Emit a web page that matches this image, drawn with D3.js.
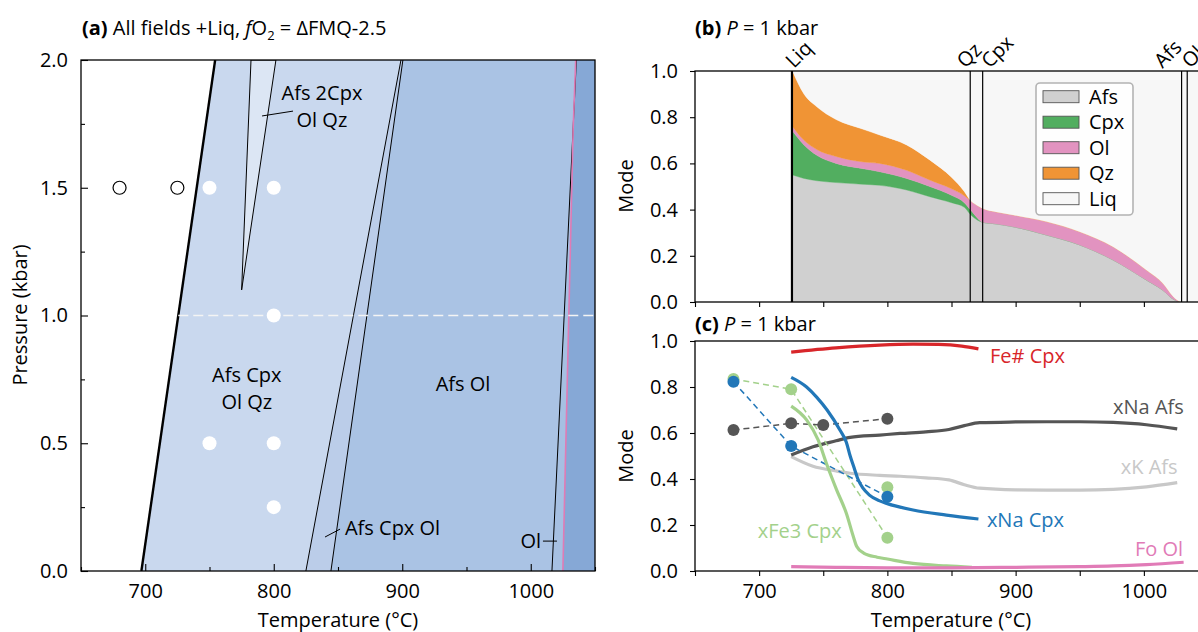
<!DOCTYPE html>
<html><head><meta charset="utf-8">
<script src="https://cdn.jsdelivr.net/npm/d3@7"></script>
<style>body{margin:0;background:#fff;overflow:hidden} svg{display:block}</style>
</head><body>
<svg id="c" width="1198" height="632"></svg>
<script>
// ---------------- DATA ----------------
// Panel (a): phase boundaries, temperature (°C) at pressure nodes (kbar)
const boundaryP = [0, 2];
const solidusT = [697, 754.4];
const qzOutT = [825, 899];
const cpxOutT = [844.5, 900.5];
const afsOutT = [1016.5, 1035.5];
const olOutP = [0, 1.73, 2];
const olOutT = [1025, 1033, 1035];
const twoCpxP = [1.1, 2.0, 2.0];
const twoCpxT = [775, 782.3, 801.7];
const expOpenT = [680, 725];
const expOpenP = [1.5, 1.5];
const expFilledT = [750, 800, 800, 750, 800, 800];
const expFilledP = [1.5, 1.5, 1.0, 0.5, 0.5, 0.25];
const sectionP = 1.0;
const pTicks = [0, 0.5, 1.0, 1.5, 2.0];
const pMinorTicks = [0.25, 0.75, 1.25, 1.75];
const tTicks = [700, 800, 900, 1000];
const tMinorTicks = [650, 750, 850, 950, 1050];

// Panel (b): phase modes at 1 kbar
const bTemp = [726, 735, 745, 760, 780, 794, 815, 833, 850, 860, 864.6, 870, 874.3, 885, 898, 924, 950, 976, 1002, 1015, 1023, 1029.4, 1050];
const bAfs = [0.55, 0.535, 0.525, 0.517, 0.51, 0.505, 0.485, 0.456, 0.43, 0.41, 0.38, 0.355, 0.345, 0.338, 0.326, 0.29, 0.247, 0.182, 0.095, 0.05, 0.012, 0, 0];
const bCpx = [0.19, 0.145, 0.11, 0.083, 0.068, 0.059, 0.05, 0.044, 0.032, 0.02, 0.02, 0.01, 0, 0, 0, 0, 0, 0, 0, 0, 0, 0, 0];
const bOl  = [0.02, 0.02, 0.025, 0.03, 0.029, 0.036, 0.035, 0.028, 0.028, 0.03, 0.04, 0.053, 0.06, 0.052, 0.051, 0.058, 0.057, 0.057, 0.043, 0.03, 0.011, 0, 0];
const bQz  = [0.24, 0.20, 0.185, 0.16, 0.143, 0.123, 0.11, 0.087, 0.05, 0.018, 0, 0, 0, 0, 0, 0, 0, 0, 0, 0, 0, 0, 0];
const bLiq = [0, 0.10, 0.155, 0.21, 0.25, 0.277, 0.32, 0.385, 0.46, 0.522, 0.56, 0.582, 0.595, 0.61, 0.623, 0.652, 0.696, 0.761, 0.862, 0.92, 0.977, 1, 1];
const phaseNames = ['Afs', 'Cpx', 'Ol', 'Qz', 'Liq'];
const phaseColors = ['#d0d0d0', '#52ae60', '#e293c0', '#f09435', '#f7f7f7'];
const phaseLineNames = ['Liq', 'Qz', 'Cpx', 'Afs', 'Ol'];
const phaseLineT = [725.6, 864.6, 874.3, 1029.4, 1033.8];
const modeTicks = [0, 0.2, 0.4, 0.6, 0.8, 1.0];

// Panel (c): compositions at 1 kbar
const feCpxT = [725, 760, 794, 820, 840, 858, 871];
const feCpxV = [0.952, 0.970, 0.982, 0.986, 0.985, 0.978, 0.966];
const afsT = [725, 742, 760, 771, 794, 810, 830, 848, 860, 872, 900, 924, 950, 976, 1002, 1026];
const xNaAfsV = [0.504, 0.54, 0.566, 0.581, 0.591, 0.598, 0.605, 0.615, 0.632, 0.645, 0.648, 0.649, 0.649, 0.646, 0.636, 0.618];
const xKAfsV = [0.497, 0.455, 0.435, 0.425, 0.416, 0.412, 0.405, 0.396, 0.375, 0.36, 0.353, 0.352, 0.352, 0.355, 0.366, 0.384];
const xNaCpxT = [725, 737, 745, 753, 763, 768, 771, 774, 777, 781, 786, 794, 800, 820, 846, 871];
const xNaCpxV = [0.842, 0.80, 0.755, 0.70, 0.613, 0.56, 0.50, 0.45, 0.40, 0.36, 0.33, 0.305, 0.293, 0.265, 0.243, 0.226];
const xFe3CpxT = [725, 737, 746, 753, 760.5, 768, 773.5, 776, 781.5, 792, 800, 820, 846, 866];
const xFe3CpxV = [0.717, 0.657, 0.57, 0.46, 0.352, 0.251, 0.149, 0.108, 0.078, 0.06, 0.052, 0.033, 0.022, 0.016];
const foOlT = [725, 760, 800, 850, 900, 950, 976, 1002, 1031];
const foOlV = [0.019, 0.016, 0.014, 0.014, 0.016, 0.019, 0.022, 0.028, 0.038];
const expNaAfsT = [680, 725, 750, 800];
const expNaAfsV = [0.613, 0.642, 0.635, 0.662];
const expNaCpxT = [680, 725, 800];
const expNaCpxV = [0.823, 0.543, 0.323];
const expFe3CpxT = [680, 725, 800];
const expFe3CpxV = [0.835, 0.79, 0.145];
const expFe3CpxExtraT = [800];
const expFe3CpxExtraV = [0.364];

// ---------------- DRAW ----------------
const FS = 20;
const svg = d3.select('#c').attr('font-family', "'Open Sans', sans-serif").attr('font-size', FS);
const defs = svg.append('defs');

function styleAxis(g) {
  g.select('.domain').remove();
  g.attr('font-size', FS).attr('font-family', null);
  g.selectAll('text').attr('fill', '#000');
  g.selectAll('line').attr('stroke', '#000').attr('stroke-width', 1.1);
}

// ======== Panel (a) ========
const xA = d3.scaleLinear([650, 1050], [81, 595]);
const yA = d3.scaleLinear([0, 2], [571, 60]);
defs.append('clipPath').attr('id', 'clipA').append('rect')
  .attr('x', 81).attr('y', 60).attr('width', 514).attr('height', 511);
const gA = svg.append('g');
const fA = gA.append('g').attr('clip-path', 'url(#clipA)');

function rightOf(Ps, Ts) {
  const pts = Ps.map((p, i) => [xA(Ts[i]), yA(p)]);
  pts.push([xA(1070), yA(Ps[Ps.length - 1])]);
  pts.push([xA(1070), yA(Ps[0])]);
  return pts;
}
const fieldLayers = [
  [boundaryP, solidusT, '#c9d8ee'],
  [boundaryP, qzOutT, '#bbcde9'],
  [boundaryP, cpxOutT, '#aac3e4'],
  [boundaryP, afsOutT, '#a6c0e2'],
  [olOutP, olOutT, '#86a8d6']
];
fieldLayers.forEach(([Ps, Ts, col]) => {
  fA.append('polygon').attr('points', rightOf(Ps, Ts).map(p => p.join(',')).join(' ')).attr('fill', col);
});
// two-Cpx lens
fA.append('polygon').attr('points', twoCpxP.map((p, i) => [xA(twoCpxT[i]), yA(p)].join(',')).join(' '))
  .attr('fill', '#dce6f4').attr('stroke', '#000').attr('stroke-width', 1);

const lineA = d3.line().x(d => xA(d[0])).y(d => yA(d[1]));
function bLine(Ps, Ts) { return Ts.map((t, i) => [t, Ps[i]]); }
fA.append('path').attr('d', lineA(bLine(boundaryP, qzOutT))).attr('stroke', '#000').attr('stroke-width', 1).attr('fill', 'none');
fA.append('path').attr('d', lineA(bLine(boundaryP, cpxOutT))).attr('stroke', '#000').attr('stroke-width', 1).attr('fill', 'none');
fA.append('path').attr('d', lineA(bLine(boundaryP, afsOutT))).attr('stroke', '#000').attr('stroke-width', 1).attr('fill', 'none');
fA.append('path').attr('d', lineA(bLine(olOutP, olOutT))).attr('stroke', '#e07bb5').attr('stroke-width', 1.6).attr('fill', 'none');
fA.append('path').attr('d', lineA(bLine(boundaryP, solidusT))).attr('stroke', '#000').attr('stroke-width', 2.4).attr('fill', 'none');

// section line at 1 kbar
const solidusAtSection = d3.scaleLinear(boundaryP, solidusT)(sectionP);
fA.append('line').attr('x1', xA(solidusAtSection)).attr('x2', xA(1050))
  .attr('y1', yA(sectionP)).attr('y2', yA(sectionP))
  .attr('stroke', '#f4f4f4').attr('stroke-width', 1.6).attr('stroke-dasharray', '10,5');

// experiments
gA.selectAll('.openc').data(expOpenT).join('circle')
  .attr('cx', (d) => xA(d)).attr('cy', (d, i) => yA(expOpenP[i])).attr('r', 6.5)
  .attr('fill', '#fff').attr('stroke', '#000').attr('stroke-width', 1.2);
gA.selectAll('.fillc').data(expFilledT).join('circle')
  .attr('cx', (d) => xA(d)).attr('cy', (d, i) => yA(expFilledP[i])).attr('r', 7)
  .attr('fill', '#fff');

// labels (positions in data coords)
function labelA(lines, T, P, anchor) {
  const t = gA.append('text').attr('x', xA(T)).attr('y', yA(P)).attr('text-anchor', anchor || 'middle');
  lines.forEach((s, i) => t.append('tspan').attr('x', xA(T)).attr('dy', i === 0 ? '0.35em' : '1.33em').text(s));
}
labelA(['Afs 2Cpx', 'Ol Qz'], 837.5, 1.871);
labelA(['Afs Cpx', 'Ol Qz'], 779, 0.767);
labelA(['Afs Ol'], 947.3, 0.732);
labelA(['Afs Cpx Ol'], 855.4, 0.168, 'start');
labelA(['Ol'], 1008, 0.117, 'end');
const leaders = [[790.9, 1.781, 815, 1.80], [839.9, 0.133, 851.6, 0.164], [1009.5, 0.117, 1020.4, 0.117]];
leaders.forEach(l => gA.append('line').attr('x1', xA(l[0])).attr('y1', yA(l[1])).attr('x2', xA(l[2])).attr('y2', yA(l[3]))
  .attr('stroke', '#000').attr('stroke-width', 1));

// frame & axes
gA.append('rect').attr('x', 81).attr('y', 60).attr('width', 514).attr('height', 511)
  .attr('fill', 'none').attr('stroke', '#000').attr('stroke-width', 1.3);
gA.append('g').attr('transform', 'translate(0,571)')
  .call(d3.axisBottom(xA).tickValues(tTicks).tickSizeInner(-7).tickSizeOuter(0).tickPadding(13).tickFormat(d3.format('d'))).call(styleAxis);
gA.append('g').attr('transform', 'translate(0,571)')
  .call(d3.axisBottom(xA).tickValues(tMinorTicks).tickSizeInner(-4).tickSizeOuter(0).tickFormat('')).call(styleAxis);
gA.append('g').attr('transform', 'translate(81,0)')
  .call(d3.axisLeft(yA).tickValues(pTicks).tickSizeInner(-7).tickSizeOuter(0).tickPadding(13).tickFormat(d3.format('.1f'))).call(styleAxis);
gA.append('g').attr('transform', 'translate(81,0)')
  .call(d3.axisLeft(yA).tickValues(pMinorTicks).tickSizeInner(-4).tickSizeOuter(0).tickFormat('')).call(styleAxis);

gA.append('text').attr('transform', 'translate(20,315) rotate(-90)').attr('text-anchor', 'middle').attr('dy', '0.35em').text('Pressure (kbar)');
gA.append('text').attr('x', 338).attr('y', 627).attr('text-anchor', 'middle').text('Temperature (°C)');
const tA = gA.append('text').attr('x', 82).attr('y', 35);
tA.append('tspan').attr('font-weight', 'bold').text('(a)');
tA.append('tspan').text(' All fields +Liq, ');
tA.append('tspan').attr('font-style', 'italic').text('f');
tA.append('tspan').text('O');
tA.append('tspan').attr('font-size', 13).attr('dy', 5).text('2');
tA.append('tspan').attr('dy', -5).text(' = ΔFMQ-2.5');

// ======== Panel (b) ========
const xB = d3.scaleLinear([650, 1050], [695, 1208]);
const yB = d3.scaleLinear([0, 1], [302, 71]);
defs.append('clipPath').attr('id', 'clipB').append('rect')
  .attr('x', 695).attr('y', 71).attr('width', 513).attr('height', 231);
const gB = svg.append('g');
const fB = gB.append('g').attr('clip-path', 'url(#clipB)');
const rows = bTemp.map((t, i) => ({ t, Afs: bAfs[i], Cpx: bCpx[i], Ol: bOl[i], Qz: bQz[i], Liq: bLiq[i] }));
const stacked = d3.stack().keys(phaseNames)(rows);
const areaB = d3.area().x(d => xB(d.data.t)).y0(d => yB(d[0])).y1(d => yB(d[1])).curve(d3.curveMonotoneX);
stacked.forEach((s, i) => {
  fB.append('path').attr('d', areaB(s)).attr('fill', phaseColors[i]).attr('stroke', phaseColors[i]).attr('stroke-width', 0.4);
});
phaseLineT.forEach((t, i) => {
  fB.append('line').attr('x1', xB(t)).attr('x2', xB(t)).attr('y1', yB(0)).attr('y2', yB(1))
    .attr('stroke', '#000').attr('stroke-width', i === 0 ? 2.2 : 1.2);
});
const lblDx = [2, -5, 7, -19, 3];
phaseLineT.forEach((t, i) => {
  gB.append('text').attr('transform', `translate(${xB(t) + lblDx[i]},69) rotate(-45)`).text(phaseLineNames[i]);
});
// legend
const lg = gB.append('g');
lg.append('rect').attr('x', 1036).attr('y', 83).attr('width', 97).attr('height', 132).attr('rx', 4)
  .attr('fill', '#fff').attr('fill-opacity', 0.85).attr('stroke', '#b3b3b3').attr('stroke-width', 1.6);
phaseNames.forEach((n, i) => {
  const cy = 96.7 + i * 25.5;
  lg.append('rect').attr('x', 1043).attr('y', cy - 6).attr('width', 36).attr('height', 12)
    .attr('fill', phaseColors[i]).attr('stroke', '#555').attr('stroke-width', 0.9);
  lg.append('text').attr('x', 1089).attr('y', cy).attr('dy', '0.35em').text(n);
});
gB.append('rect').attr('x', 695).attr('y', 71).attr('width', 513).attr('height', 231)
  .attr('fill', 'none').attr('stroke', '#000').attr('stroke-width', 1.3);
gB.append('g').attr('transform', 'translate(0,302)')
  .call(d3.axisBottom(xB).tickValues(d3.range(650, 1051, 50)).tickSizeInner(5).tickSizeOuter(0).tickFormat('')).call(styleAxis);
gB.append('g').attr('transform', 'translate(695,0)')
  .call(d3.axisLeft(yB).tickValues(modeTicks).tickSizeInner(5).tickSizeOuter(0).tickPadding(12).tickFormat(d3.format('.1f'))).call(styleAxis);
gB.append('text').attr('transform', 'translate(626,186) rotate(-90)').attr('text-anchor', 'middle').attr('dy', '0.35em').text('Mode');
const tB = gB.append('text').attr('x', 695).attr('y', 35);
tB.append('tspan').attr('font-weight', 'bold').text('(b)');
tB.append('tspan').text(' ');
tB.append('tspan').attr('font-style', 'italic').text('P');
tB.append('tspan').text(' = 1 kbar');

// ======== Panel (c) ========
const xC = d3.scaleLinear([650, 1050], [695, 1208]);
const yC = d3.scaleLinear([0, 1], [571, 341]);
defs.append('clipPath').attr('id', 'clipC').append('rect')
  .attr('x', 695).attr('y', 341).attr('width', 513).attr('height', 230);
const gC = svg.append('g');
const fC = gC.append('g').attr('clip-path', 'url(#clipC)');
const lineC = d3.line().x(d => xC(d[0])).y(d => yC(d[1])).curve(d3.curveMonotoneX);
const lineStraight = d3.line().x(d => xC(d[0])).y(d => yC(d[1]));
const zip = (T, V) => T.map((t, i) => [t, V[i]]);
function solid(T, V, col) {
  fC.append('path').attr('d', lineC(zip(T, V))).attr('fill', 'none').attr('stroke', col).attr('stroke-width', 3.2);
}
function dashed(T, V, col) {
  fC.append('path').attr('d', lineStraight(zip(T, V))).attr('fill', 'none').attr('stroke', col)
    .attr('stroke-width', 1.5).attr('stroke-dasharray', '6,4');
}
function dots(T, V, col) {
  fC.append('g').selectAll('circle').data(zip(T, V)).join('circle')
    .attr('cx', d => xC(d[0])).attr('cy', d => yC(d[1])).attr('r', 6).attr('fill', col);
}
const cRed = '#d8262a', cDark = '#555555', cLight = '#c8c8c8', cBlue = '#2277b8', cGreen = '#a3d18b', cPink = '#e17bb7';
solid(afsT, xKAfsV, cLight);
solid(afsT, xNaAfsV, cDark);
dashed(expFe3CpxT, expFe3CpxV, cGreen);
dashed(expNaAfsT, expNaAfsV, cDark);
dashed(expNaCpxT, expNaCpxV, cBlue);
solid(xFe3CpxT, xFe3CpxV, cGreen);
solid(xNaCpxT, xNaCpxV, cBlue);
solid(feCpxT, feCpxV, cRed);
solid(foOlT, foOlV, cPink);
dots(expFe3CpxT, expFe3CpxV, cGreen);
dots(expFe3CpxExtraT, expFe3CpxExtraV, cGreen);
dots(expNaAfsT, expNaAfsV, cDark);
dots(expNaCpxT, expNaCpxV, cBlue);

function labelC(s, T, V, col) {
  gC.append('text').attr('x', xC(T)).attr('y', yC(V)).attr('dy', '0.35em').attr('fill', col).text(s);
}
labelC('Fe# Cpx', 880, 0.935, cRed);
labelC('xNa Afs', 976, 0.713, cDark);
labelC('xK Afs', 982, 0.452, cLight);
labelC('xNa Cpx', 877.6, 0.222, cBlue);
labelC('xFe3 Cpx', 699, 0.175, cGreen);
labelC('Fo Ol', 993, 0.096, cPink);

gC.append('rect').attr('x', 695).attr('y', 341).attr('width', 513).attr('height', 230)
  .attr('fill', 'none').attr('stroke', '#000').attr('stroke-width', 1.3);
gC.append('g').attr('transform', 'translate(0,571)')
  .call(d3.axisBottom(xC).tickValues(tTicks).tickSizeInner(5).tickSizeOuter(0).tickPadding(8).tickFormat(d3.format('d'))).call(styleAxis);
gC.append('g').attr('transform', 'translate(0,571)')
  .call(d3.axisBottom(xC).tickValues(tMinorTicks).tickSizeInner(5).tickSizeOuter(0).tickFormat('')).call(styleAxis);
gC.append('g').attr('transform', 'translate(695,0)')
  .call(d3.axisLeft(yC).tickValues(modeTicks).tickSizeInner(5).tickSizeOuter(0).tickPadding(12).tickFormat(d3.format('.1f'))).call(styleAxis);
gC.append('text').attr('transform', 'translate(626,456) rotate(-90)').attr('text-anchor', 'middle').attr('dy', '0.35em').text('Mode');
gC.append('text').attr('x', 951).attr('y', 627).attr('text-anchor', 'middle').text('Temperature (°C)');
const tC = gC.append('text').attr('x', 695).attr('y', 331);
tC.append('tspan').attr('font-weight', 'bold').text('(c)');
tC.append('tspan').text(' ');
tC.append('tspan').attr('font-style', 'italic').text('P');
tC.append('tspan').text(' = 1 kbar');
</script>
</body></html>
